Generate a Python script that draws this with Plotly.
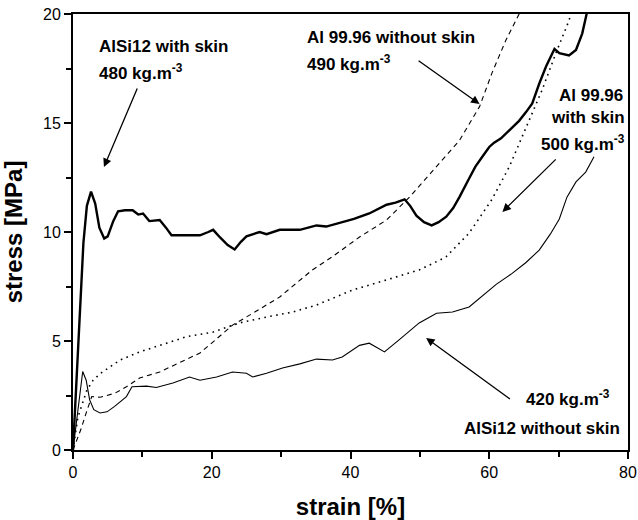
import plotly.graph_objects as go

# AlSi12 with skin (thick solid)
x_alsi_skin = [0, 0.5, 1.0, 1.5, 2.0, 2.6, 3.2, 3.8, 4.5, 5.0, 5.8, 6.5, 7.5, 8.6, 9.4, 10.1, 11.0, 12.5,
               13.4, 14.2, 16.0, 18.3, 19.5, 20.2, 21.2, 22.3, 23.3, 24.2, 25.0, 26.9, 27.9, 29.8, 32.7,
               35.1, 36.5, 38.4, 40.5, 42.7, 44.0, 45.2, 46.5, 47.8, 48.6, 49.5, 50.6, 51.7, 52.7, 53.8,
               54.8, 55.7, 57.0, 58.0, 59.0, 60.0, 60.7, 61.7, 63.0, 64.3, 65.3, 66.2, 67.2, 68.2, 69.4,
               70.1, 71.5, 72.5, 73.4, 74.1, 74.6]
y_alsi_skin = [0, 3.0, 6.5, 9.5, 11.2, 11.85, 11.3, 10.2, 9.7, 9.8, 10.5, 10.95, 11.0, 11.0, 10.8, 10.85, 10.5,
               10.55, 10.2, 9.85, 9.85, 9.85, 10.0, 10.1, 9.75, 9.4, 9.2, 9.55, 9.8, 10.0, 9.9, 10.1, 10.1,
               10.3, 10.25, 10.4, 10.6, 10.85, 11.05, 11.25, 11.35, 11.5, 11.2, 10.75, 10.45, 10.3, 10.45,
               10.7, 11.1, 11.6, 12.4, 13.0, 13.45, 13.9, 14.1, 14.3, 14.7, 15.1, 15.5, 15.9, 16.8, 17.6,
               18.4, 18.2, 18.1, 18.35, 19.1, 20.0, 20.8]

# Al 99.96 without skin (dashed)
x_al_noskin = [0, 1.2, 2.0, 2.7, 3.9, 6.0, 7.7, 9.6, 12.5, 15.4, 18.3, 20.2, 23.0, 25.9, 29.8, 34.5, 37.4,
               41.3, 45.2, 48.5, 52.4, 55.7, 58.6, 60.4, 62.4, 64.3, 64.8]
y_al_noskin = [0, 1.0, 1.8, 2.45, 2.42, 2.6, 2.9, 3.3, 3.58, 4.0, 4.45, 4.96, 5.73, 6.27, 7.02, 8.26, 8.87,
               9.77, 10.55, 11.6, 13.0, 14.2, 15.75, 17.3, 18.8, 20.0, 20.5]

# Al 99.96 with skin (dotted)
x_al_skin = [0, 0.7, 2.0, 2.9, 3.9, 5.3, 6.8, 9.6, 12.5, 16.4, 20.2, 24.0, 27.9, 31.7, 35.1, 40.3, 45.2,
             49.9, 52.8, 53.8, 57.1, 60.4, 62.9, 65.3, 67.6, 69.6, 71.5, 72.0]
y_al_skin = [0, 1.5, 2.75, 3.2, 3.5, 3.8, 4.13, 4.5, 4.8, 5.2, 5.41, 5.83, 6.1, 6.33, 6.65, 7.34, 7.8,
             8.26, 8.7, 8.87, 9.95, 11.5, 13.0, 14.8, 16.5, 18.2, 19.7, 20.3]

# AlSi12 without skin (thin solid)
x_alsi_noskin = [0, 0.7, 1.1, 1.4, 1.9, 2.4, 3.0, 3.9, 4.9, 6.0, 7.7, 8.5, 10.6, 12.0, 14.4, 16.8, 18.3,
                 20.7, 23.0, 25.0, 25.9, 27.9, 30.2, 32.7, 35.1, 37.4, 38.8, 41.3, 42.7, 43.9, 44.9, 47.0,
                 49.9, 52.4, 54.7, 57.1, 58.8, 61.0, 63.3, 65.3, 67.2, 68.8, 70.1, 71.2, 72.5, 73.9, 75.1]
y_alsi_noskin = [0, 1.8, 3.0, 3.6, 3.2, 2.3, 1.85, 1.7, 1.75, 2.0, 2.45, 2.9, 2.93, 2.87, 3.07, 3.35, 3.2,
                 3.35, 3.58, 3.52, 3.35, 3.52, 3.76, 3.95, 4.17, 4.13, 4.27, 4.8, 4.9, 4.68, 4.5, 5.05,
                 5.83, 6.27, 6.33, 6.56, 7.0, 7.6, 8.1, 8.6, 9.17, 9.9, 10.6, 11.6, 12.3, 12.75, 13.45]

x_ticks = [0, 20, 40, 60, 80]
y_ticks = [0, 5, 10, 15, 20]

FONT = "Arial, Liberation Sans, Helvetica, sans-serif"

fig = go.Figure()
fig.add_trace(go.Scatter(x=x_alsi_noskin, y=y_alsi_noskin, mode="lines",
                         line=dict(color="black", width=1.1), name="AlSi12 without skin"))
fig.add_trace(go.Scatter(x=x_al_skin, y=y_al_skin, mode="lines",
                         line=dict(color="black", width=1.6, dash="1.6px,4.4px"), name="Al 99.96 with skin"))
fig.add_trace(go.Scatter(x=x_al_noskin, y=y_al_noskin, mode="lines",
                         line=dict(color="black", width=1.1, dash="5px,4px"), name="Al 99.96 without skin"))
fig.add_trace(go.Scatter(x=x_alsi_skin, y=y_alsi_skin, mode="lines",
                         line=dict(color="black", width=2.4), name="AlSi12 with skin"))

ann_font = dict(family=FONT, size=17, color="black")
texts = [
    (3.45, 18.49, "<b>AlSi12 with skin</b>", "left"),
    (3.45, 17.34, "<b>480 kg.m<sup>-3</sup></b>", "left"),
    (33.4, 18.94, "<b>Al 99.96 without skin</b>", "left"),
    (33.4, 17.75, "<b>490 kg.m<sup>-3</sup></b>", "left"),
    (79.6, 16.28, "<b>Al 99.96</b>", "right"),
    (79.9, 15.23, "<b>with skin</b>", "right"),
    (79.8, 14.08, "<b>500 kg.m<sup>-3</sup></b>", "right"),
    (77.7, 2.39, "<b>420 kg.m<sup>-3</sup></b>", "right"),
    (79.1, 1.0, "<b>AlSi12 without skin</b>", "right"),
]
for x, y, t, anc in texts:
    fig.add_annotation(x=x, y=y, text=t, showarrow=False, xanchor=anc, yanchor="middle",
                       font=ann_font, xref="x", yref="y")

arrows = [
    (9.35, 16.65, 4.46, 12.98),
    (49.6, 17.9, 58.6, 15.87),
    (69.8, 13.4, 61.9, 10.92),
    (63.2, 2.29, 50.9, 5.14),
]
for tx, ty, hx, hy in arrows:
    fig.add_annotation(x=hx, y=hy, ax=tx, ay=ty, xref="x", yref="y", axref="x", ayref="y",
                       text="", showarrow=True, arrowhead=2, arrowsize=1.3, arrowwidth=1.3,
                       arrowcolor="black")

axis_common = dict(showline=True, linecolor="black", linewidth=2, mirror=True,
                   ticks="outside", ticklen=7, tickwidth=1.5, tickcolor="black",
                   showgrid=False, zeroline=False, automargin=False,
                   tickfont=dict(family=FONT, size=16, color="black"))

fig.update_xaxes(range=[0, 80], tickvals=x_ticks, **axis_common,
                 minor=dict(dtick=10, tick0=0, ticks="outside", ticklen=5, tickwidth=1.5, tickcolor="black"),
                 title=dict(text="<b>strain [%]</b>", font=dict(family=FONT, size=24, color="black"),
                            standoff=18))
fig.update_yaxes(range=[0, 20], tickvals=y_ticks, **axis_common,
                 minor=dict(dtick=2.5, tick0=0, ticks="outside", ticklen=5, tickwidth=1.5, tickcolor="black"),
                 title=dict(text="<b>stress [MPa]</b>", font=dict(family=FONT, size=24, color="black"),
                            standoff=14))

fig.update_layout(width=638, height=520, margin=dict(l=73, r=10, t=14, b=70),
                  paper_bgcolor="white", plot_bgcolor="white", showlegend=False,
                  font=dict(family=FONT, color="black"))

fig.write_html("out.html")
